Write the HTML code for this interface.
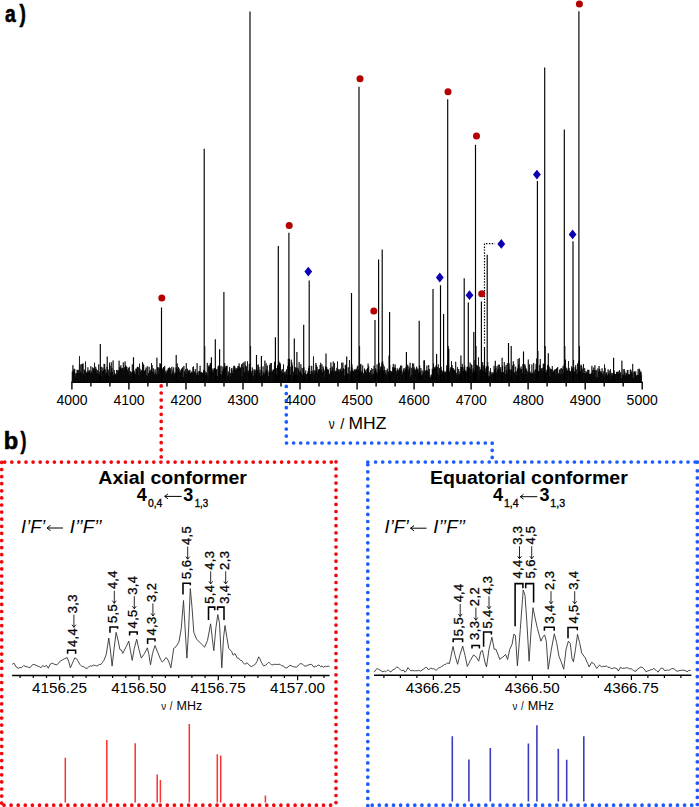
<!DOCTYPE html>
<html><head><meta charset="utf-8"><style>
html,body{margin:0;padding:0;background:#fff;}
svg{display:block;}
text{font-family:"Liberation Sans", sans-serif;fill:#000;}
</style></head><body>
<svg width="699" height="807" viewBox="0 0 699 807">
<rect width="699" height="807" fill="#fff"/>
<path d="M72.00,382.0 72.30,371.5 72.60,382.4 72.90,365.2 73.20,382.6 73.50,370.5 73.80,382.1 74.10,368.9 74.40,382.3 74.70,368.9 75.00,382.0 75.30,373.3 75.60,382.0 75.90,376.6 76.20,382.4 76.50,373.3 76.80,382.6 77.10,369.8 77.40,381.7 77.70,370.5 78.00,382.1 78.30,369.9 78.60,382.4 78.90,373.0 79.20,382.2 79.50,356.2 79.80,382.4 80.10,364.8 80.40,382.1 80.70,371.7 81.00,381.9 81.30,364.0 81.60,382.1 81.90,373.7 82.20,382.0 82.50,363.9 82.80,382.3 83.10,363.5 83.40,382.2 83.70,374.0 84.00,382.0 84.30,369.6 84.60,382.4 84.90,370.5 85.20,382.2 85.50,361.5 85.80,382.4 86.10,372.2 86.40,381.7 86.70,373.1 87.00,381.8 87.30,371.3 87.60,382.0 87.90,367.3 88.20,381.7 88.50,371.9 88.80,381.7 89.10,370.3 89.40,382.2 89.70,370.3 90.00,382.6 90.30,373.1 90.60,382.1 90.90,366.2 91.20,382.6 91.50,371.2 91.80,382.5 92.10,373.3 92.40,382.2 92.70,367.4 93.00,382.3 93.30,369.1 93.60,382.2 93.90,368.0 94.20,381.7 94.50,362.8 94.80,382.6 95.10,369.8 95.40,382.5 95.70,366.8 96.00,382.6 96.30,368.8 96.60,382.1 96.90,373.1 97.20,382.4 97.50,370.2 97.80,382.3 98.10,373.4 98.40,382.3 98.70,364.4 99.00,382.2 99.30,374.5 99.60,382.1 99.90,371.7 100.20,382.0 100.50,366.5 100.80,382.2 101.10,376.2 101.40,382.2 101.70,366.9 102.00,382.3 102.30,371.1 102.60,381.9 102.90,367.7 103.20,382.3 103.50,370.4 103.80,382.5 104.10,363.9 104.40,381.8 104.70,364.1 105.00,382.1 105.30,369.3 105.60,382.3 105.90,374.3 106.20,382.0 106.50,372.6 106.80,382.5 107.10,367.0 107.40,381.8 107.70,373.9 108.00,381.7 108.30,369.8 108.60,382.1 108.90,376.2 109.20,382.6 109.50,362.6 109.80,382.4 110.10,365.7 110.40,382.6 110.70,372.3 111.00,381.9 111.30,362.3 111.60,381.7 111.90,367.9 112.20,381.9 112.50,372.3 112.80,382.0 113.10,360.5 113.40,381.6 113.70,375.4 114.00,382.3 114.30,370.1 114.60,382.0 114.90,373.2 115.20,381.7 115.50,374.4 115.80,381.8 116.10,374.9 116.40,382.0 116.70,370.0 117.00,382.5 117.30,370.0 117.60,381.8 117.90,373.2 118.20,381.9 118.50,370.4 118.80,382.4 119.10,360.7 119.40,382.4 119.70,367.3 120.00,382.2 120.30,367.2 120.60,381.9 120.90,365.2 121.20,382.5 121.50,368.8 121.80,382.2 122.10,368.0 122.40,382.4 122.70,367.9 123.00,382.1 123.30,362.4 123.60,382.0 123.90,370.1 124.20,381.8 124.50,367.4 124.80,382.5 125.10,361.4 125.40,382.3 125.70,365.5 126.00,382.0 126.30,366.5 126.60,381.7 126.90,367.0 127.20,382.5 127.50,369.7 127.80,381.8 128.10,371.8 128.40,382.5 128.70,368.0 129.00,382.4 129.30,366.9 129.60,381.9 129.90,375.5 130.20,382.4 130.50,371.2 130.80,381.9 131.10,372.5 131.40,381.8 131.70,372.5 132.00,382.0 132.30,364.4 132.60,381.8 132.90,371.7 133.20,382.2 133.50,371.6 133.80,381.8 134.10,370.5 134.40,382.1 134.70,372.1 135.00,381.8 135.30,374.2 135.60,382.5 135.90,368.7 136.20,382.5 136.50,369.3 136.80,381.7 137.10,367.5 137.40,381.6 137.70,366.8 138.00,382.0 138.30,367.4 138.60,382.4 138.90,375.1 139.20,381.8 139.50,363.7 139.80,382.6 140.10,368.8 140.40,381.9 140.70,371.8 141.00,381.6 141.30,370.5 141.60,382.4 141.90,370.2 142.20,382.5 142.50,362.0 142.80,382.5 143.10,363.7 143.40,382.1 143.70,365.0 144.00,382.3 144.30,371.0 144.60,382.1 144.90,370.4 145.20,382.2 145.50,369.7 145.80,382.4 146.10,367.6 146.40,381.6 146.70,375.4 147.00,381.6 147.30,366.3 147.60,382.1 147.90,376.2 148.20,382.3 148.50,373.0 148.80,382.4 149.10,366.8 149.40,381.8 149.70,370.8 150.00,381.9 150.30,371.5 150.60,381.9 150.90,369.6 151.20,381.8 151.50,363.1 151.80,382.0 152.10,365.1 152.40,382.4 152.70,372.1 153.00,381.6 153.30,368.2 153.60,382.3 153.90,370.9 154.20,382.0 154.50,374.3 154.80,382.2 155.10,369.1 155.40,382.3 155.70,372.7 156.00,382.0 156.30,374.5 156.60,381.9 156.90,357.7 157.20,382.1 157.50,367.3 157.80,382.1 158.10,374.0 158.40,382.0 158.70,367.3 159.00,382.6 159.30,368.2 159.60,382.0 159.90,363.2 160.20,382.4 160.50,363.9 160.80,382.4 161.10,367.5 161.40,381.9 161.70,368.0 162.00,382.1 162.30,368.5 162.60,381.9 162.90,371.3 163.20,382.0 163.50,367.0 163.80,382.2 164.10,367.6 164.40,382.1 164.70,365.9 165.00,382.2 165.30,370.8 165.60,382.2 165.90,374.2 166.20,382.2 166.50,372.2 166.80,382.0 167.10,369.8 167.40,382.0 167.70,370.7 168.00,382.3 168.30,367.9 168.60,381.6 168.90,368.4 169.20,382.2 169.50,367.4 169.80,381.7 170.10,369.8 170.40,381.7 170.70,368.3 171.00,382.5 171.30,374.0 171.60,382.1 171.90,366.7 172.20,381.8 172.50,372.6 172.80,381.8 173.10,369.9 173.40,382.1 173.70,367.4 174.00,381.9 174.30,374.6 174.60,381.9 174.90,372.6 175.20,382.5 175.50,372.6 175.80,382.0 176.10,367.5 176.40,382.3 176.70,369.1 177.00,382.0 177.30,363.5 177.60,382.3 177.90,369.1 178.20,382.5 178.50,367.1 178.80,381.9 179.10,368.4 179.40,382.3 179.70,371.9 180.00,381.7 180.30,370.1 180.60,381.8 180.90,372.6 181.20,382.3 181.50,369.0 181.80,382.5 182.10,368.1 182.40,382.5 182.70,367.3 183.00,382.3 183.30,377.1 183.60,382.4 183.90,365.9 184.20,382.6 184.50,371.2 184.80,382.3 185.10,374.0 185.40,382.0 185.70,369.1 186.00,381.8 186.30,363.0 186.60,381.7 186.90,373.7 187.20,381.9 187.50,368.7 187.80,382.4 188.10,371.6 188.40,382.5 188.70,370.6 189.00,381.8 189.30,370.4 189.60,382.0 189.90,369.8 190.20,382.0 190.50,373.3 190.80,382.3 191.10,372.6 191.40,381.9 191.70,371.6 192.00,381.7 192.30,372.7 192.60,382.5 192.90,367.1 193.20,382.3 193.50,366.4 193.80,382.3 194.10,372.1 194.40,381.7 194.70,371.6 195.00,381.8 195.30,369.1 195.60,381.8 195.90,372.9 196.20,382.3 196.50,375.2 196.80,381.9 197.10,363.1 197.40,382.5 197.70,372.5 198.00,382.0 198.30,375.2 198.60,382.3 198.90,371.1 199.20,382.3 199.50,370.9 199.80,381.7 200.10,365.8 200.40,382.0 200.70,372.3 201.00,381.9 201.30,371.9 201.60,382.6 201.90,372.8 202.20,382.4 202.50,372.8 202.80,382.1 203.10,373.1 203.40,382.3 203.70,370.2 204.00,382.4 204.30,369.2 204.60,382.5 204.90,370.9 205.20,381.9 205.50,374.9 205.80,382.0 206.10,372.1 206.40,382.5 206.70,373.2 207.00,381.8 207.30,362.9 207.60,381.7 207.90,375.9 208.20,382.1 208.50,366.6 208.80,382.5 209.10,365.2 209.40,382.1 209.70,366.2 210.00,382.3 210.30,363.1 210.60,382.4 210.90,363.5 211.20,381.6 211.50,369.2 211.80,382.3 212.10,368.5 212.40,382.0 212.70,371.8 213.00,382.4 213.30,370.2 213.60,382.4 213.90,368.5 214.20,382.5 214.50,368.4 214.80,382.2 215.10,368.0 215.40,382.1 215.70,370.7 216.00,382.5 216.30,369.7 216.60,382.5 216.90,368.9 217.20,381.8 217.50,376.1 217.80,382.3 218.10,366.3 218.40,381.7 218.70,365.6 219.00,382.1 219.30,368.2 219.60,382.2 219.90,366.2 220.20,381.6 220.50,374.0 220.80,381.8 221.10,365.9 221.40,382.6 221.70,374.9 222.00,382.1 222.30,370.8 222.60,382.4 222.90,366.6 223.20,382.5 223.50,368.8 223.80,382.1 224.10,367.6 224.40,382.3 224.70,363.1 225.00,381.8 225.30,367.6 225.60,381.8 225.90,366.2 226.20,381.7 226.50,366.2 226.80,382.3 227.10,365.7 227.40,382.0 227.70,375.9 228.00,381.9 228.30,371.5 228.60,381.6 228.90,373.5 229.20,381.7 229.50,367.0 229.80,382.3 230.10,376.6 230.40,381.7 230.70,373.1 231.00,382.0 231.30,368.7 231.60,381.9 231.90,367.9 232.20,382.4 232.50,372.8 232.80,381.8 233.10,370.1 233.40,382.3 233.70,366.3 234.00,381.7 234.30,365.6 234.60,382.2 234.90,366.7 235.20,382.1 235.50,369.7 235.80,382.2 236.10,368.0 236.40,381.8 236.70,369.0 237.00,381.8 237.30,368.3 237.60,382.3 237.90,366.0 238.20,382.2 238.50,366.9 238.80,382.4 239.10,363.4 239.40,381.8 239.70,366.6 240.00,382.6 240.30,368.1 240.60,382.3 240.90,367.4 241.20,382.0 241.50,364.3 241.80,382.5 242.10,376.1 242.40,382.3 242.70,363.2 243.00,382.3 243.30,367.3 243.60,381.6 243.90,362.4 244.20,382.0 244.50,372.2 244.80,382.3 245.10,361.3 245.40,382.0 245.70,365.6 246.00,382.3 246.30,366.5 246.60,381.7 246.90,370.7 247.20,381.9 247.50,361.3 247.80,381.6 248.10,372.3 248.40,382.5 248.70,370.6 249.00,382.4 249.30,363.8 249.60,382.0 249.90,366.6 250.20,381.7 250.50,368.9 250.80,382.5 251.10,371.0 251.40,382.1 251.70,373.0 252.00,382.3 252.30,367.4 252.60,381.8 252.90,370.6 253.20,382.6 253.50,375.8 253.80,382.5 254.10,369.2 254.40,381.8 254.70,371.0 255.00,382.6 255.30,369.7 255.60,382.4 255.90,373.4 256.20,382.3 256.50,372.5 256.80,382.2 257.10,364.9 257.40,382.1 257.70,370.4 258.00,382.3 258.30,364.6 258.60,382.1 258.90,367.1 259.20,381.6 259.50,372.9 259.80,382.1 260.10,369.9 260.40,381.6 260.70,376.2 261.00,382.4 261.30,366.6 261.60,382.0 261.90,371.0 262.20,382.4 262.50,375.3 262.80,381.9 263.10,366.4 263.40,381.6 263.70,372.5 264.00,382.2 264.30,373.6 264.60,382.3 264.90,360.6 265.20,382.2 265.50,370.8 265.80,381.9 266.10,363.3 266.40,381.6 266.70,369.6 267.00,381.7 267.30,365.5 267.60,382.3 267.90,372.4 268.20,382.0 268.50,376.3 268.80,381.8 269.10,370.6 269.40,382.2 269.70,365.1 270.00,382.0 270.30,363.3 270.60,381.6 270.90,372.2 271.20,381.8 271.50,363.0 271.80,382.4 272.10,370.5 272.40,382.0 272.70,371.5 273.00,382.1 273.30,369.7 273.60,382.5 273.90,369.5 274.20,382.5 274.50,361.8 274.80,382.5 275.10,365.6 275.40,382.2 275.70,370.6 276.00,381.9 276.30,368.0 276.60,382.1 276.90,374.8 277.20,381.9 277.50,365.2 277.80,382.2 278.10,367.2 278.40,381.9 278.70,366.5 279.00,381.6 279.30,363.0 279.60,381.6 279.90,362.6 280.20,382.4 280.50,364.3 280.80,382.0 281.10,370.1 281.40,381.8 281.70,371.8 282.00,382.5 282.30,369.0 282.60,382.2 282.90,373.5 283.20,382.1 283.50,364.4 283.80,381.8 284.10,373.0 284.40,381.6 284.70,371.8 285.00,382.2 285.30,373.9 285.60,382.0 285.90,371.3 286.20,381.7 286.50,369.4 286.80,382.3 287.10,374.6 287.40,381.9 287.70,365.9 288.00,381.7 288.30,358.8 288.60,382.0 288.90,363.7 289.20,382.6 289.50,371.8 289.80,382.2 290.10,366.9 290.40,381.8 290.70,374.8 291.00,382.0 291.30,359.7 291.60,381.6 291.90,362.6 292.20,381.9 292.50,365.7 292.80,382.3 293.10,375.7 293.40,382.5 293.70,372.0 294.00,382.5 294.30,370.8 294.60,382.1 294.90,369.4 295.20,382.5 295.50,367.3 295.80,382.1 296.10,374.3 296.40,381.7 296.70,367.8 297.00,381.8 297.30,375.6 297.60,381.9 297.90,367.7 298.20,382.3 298.50,369.5 298.80,381.7 299.10,362.1 299.40,382.2 299.70,372.0 300.00,382.1 300.30,370.8 300.60,382.3 300.90,364.3 301.20,381.7 301.50,373.1 301.80,382.2 302.10,367.9 302.40,382.0 302.70,374.9 303.00,382.2 303.30,368.1 303.60,381.9 303.90,367.3 304.20,382.1 304.50,375.5 304.80,382.5 305.10,373.7 305.40,381.8 305.70,370.4 306.00,382.5 306.30,374.7 306.60,381.6 306.90,374.1 307.20,382.5 307.50,373.1 307.80,382.5 308.10,371.0 308.40,382.2 308.70,368.1 309.00,381.8 309.30,365.8 309.60,382.1 309.90,377.4 310.20,382.1 310.50,374.0 310.80,382.3 311.10,371.1 311.40,381.7 311.70,365.8 312.00,382.5 312.30,372.6 312.60,381.7 312.90,370.4 313.20,382.3 313.50,356.4 313.80,381.6 314.10,374.5 314.40,381.9 314.70,370.5 315.00,381.9 315.30,370.7 315.60,382.2 315.90,363.0 316.20,382.5 316.50,365.3 316.80,382.0 317.10,366.9 317.40,382.3 317.70,372.9 318.00,382.2 318.30,370.1 318.60,381.7 318.90,369.1 319.20,381.7 319.50,369.3 319.80,381.9 320.10,365.0 320.40,382.1 320.70,362.8 321.00,381.9 321.30,370.1 321.60,382.6 321.90,364.3 322.20,382.5 322.50,372.5 322.80,381.7 323.10,366.4 323.40,382.1 323.70,368.7 324.00,381.9 324.30,370.6 324.60,381.9 324.90,377.3 325.20,381.8 325.50,366.1 325.80,382.1 326.10,367.4 326.40,381.9 326.70,367.1 327.00,382.1 327.30,369.5 327.60,382.1 327.90,368.9 328.20,382.5 328.50,370.2 328.80,381.8 329.10,373.6 329.40,382.0 329.70,374.1 330.00,382.0 330.30,368.0 330.60,381.6 330.90,362.4 331.20,381.9 331.50,371.2 331.80,381.7 332.10,366.5 332.40,382.3 332.70,368.4 333.00,382.4 333.30,361.5 333.60,381.8 333.90,372.0 334.20,381.9 334.50,363.0 334.80,382.0 335.10,370.8 335.40,382.4 335.70,371.6 336.00,381.9 336.30,370.7 336.60,382.1 336.90,367.9 337.20,381.7 337.50,361.5 337.80,382.3 338.10,371.9 338.40,382.3 338.70,369.2 339.00,381.9 339.30,369.6 339.60,382.2 339.90,372.0 340.20,382.0 340.50,368.7 340.80,382.6 341.10,371.2 341.40,382.2 341.70,362.7 342.00,381.7 342.30,370.5 342.60,382.0 342.90,362.6 343.20,382.5 343.50,368.2 343.80,382.5 344.10,369.1 344.40,381.9 344.70,375.6 345.00,381.8 345.30,364.8 345.60,382.2 345.90,365.4 346.20,381.9 346.50,366.4 346.80,381.8 347.10,374.3 347.40,381.7 347.70,373.2 348.00,382.0 348.30,367.4 348.60,382.0 348.90,374.8 349.20,382.2 349.50,360.0 349.80,382.2 350.10,373.7 350.40,381.9 350.70,371.2 351.00,382.4 351.30,367.1 351.60,382.4 351.90,364.4 352.20,382.4 352.50,370.2 352.80,381.7 353.10,371.6 353.40,382.4 353.70,370.9 354.00,381.9 354.30,369.1 354.60,382.3 354.90,370.8 355.20,382.3 355.50,369.9 355.80,382.1 356.10,368.7 356.40,381.7 356.70,369.9 357.00,381.6 357.30,366.5 357.60,382.5 357.90,365.7 358.20,382.5 358.50,369.5 358.80,382.1 359.10,372.5 359.40,382.2 359.70,371.4 360.00,382.3 360.30,364.6 360.60,382.3 360.90,363.9 361.20,382.5 361.50,372.0 361.80,382.0 362.10,370.7 362.40,382.5 362.70,365.4 363.00,382.2 363.30,373.3 363.60,381.6 363.90,373.6 364.20,382.0 364.50,368.5 364.80,381.7 365.10,369.8 365.40,382.5 365.70,371.0 366.00,382.6 366.30,372.8 366.60,381.8 366.90,369.1 367.20,382.1 367.50,368.0 367.80,381.8 368.10,363.6 368.40,382.4 368.70,366.4 369.00,382.4 369.30,372.6 369.60,381.7 369.90,372.3 370.20,382.2 370.50,370.2 370.80,382.2 371.10,374.5 371.40,382.3 371.70,368.2 372.00,382.0 372.30,373.9 372.60,382.4 372.90,369.0 373.20,381.8 373.50,373.9 373.80,382.6 374.10,365.6 374.40,381.7 374.70,371.2 375.00,382.2 375.30,368.4 375.60,382.3 375.90,369.2 376.20,382.5 376.50,371.9 376.80,381.6 377.10,364.4 377.40,381.8 377.70,373.5 378.00,382.2 378.30,369.5 378.60,382.1 378.90,363.2 379.20,382.1 379.50,371.1 379.80,382.5 380.10,369.5 380.40,382.4 380.70,366.8 381.00,382.3 381.30,366.2 381.60,382.6 381.90,362.6 382.20,382.1 382.50,370.4 382.80,382.1 383.10,364.3 383.40,381.8 383.70,370.7 384.00,381.7 384.30,366.5 384.60,381.7 384.90,369.9 385.20,382.1 385.50,372.8 385.80,382.3 386.10,370.3 386.40,381.8 386.70,374.6 387.00,382.4 387.30,368.6 387.60,381.6 387.90,370.9 388.20,381.9 388.50,372.4 388.80,382.2 389.10,355.6 389.40,382.3 389.70,365.0 390.00,382.3 390.30,374.5 390.60,382.4 390.90,371.0 391.20,382.0 391.50,371.7 391.80,381.7 392.10,371.7 392.40,382.4 392.70,367.2 393.00,382.3 393.30,363.9 393.60,382.2 393.90,368.1 394.20,382.3 394.50,367.6 394.80,382.1 395.10,364.4 395.40,382.1 395.70,367.8 396.00,381.8 396.30,370.7 396.60,381.9 396.90,373.5 397.20,381.9 397.50,368.5 397.80,382.5 398.10,371.5 398.40,381.9 398.70,369.9 399.00,382.5 399.30,368.6 399.60,382.6 399.90,367.6 400.20,382.1 400.50,365.6 400.80,382.3 401.10,370.6 401.40,381.9 401.70,365.6 402.00,381.9 402.30,374.1 402.60,381.7 402.90,371.5 403.20,382.2 403.50,369.5 403.80,382.4 404.10,368.0 404.40,381.8 404.70,371.7 405.00,382.1 405.30,369.3 405.60,381.6 405.90,367.2 406.20,382.2 406.50,360.5 406.80,381.7 407.10,366.6 407.40,382.2 407.70,364.8 408.00,381.8 408.30,370.7 408.60,382.6 408.90,366.6 409.20,381.9 409.50,368.7 409.80,381.8 410.10,362.8 410.40,382.3 410.70,376.6 411.00,382.6 411.30,367.8 411.60,382.4 411.90,374.4 412.20,381.9 412.50,363.3 412.80,382.4 413.10,369.4 413.40,382.3 413.70,363.7 414.00,382.1 414.30,367.5 414.60,382.1 414.90,369.5 415.20,382.1 415.50,370.7 415.80,382.3 416.10,368.7 416.40,381.8 416.70,366.6 417.00,382.1 417.30,369.3 417.60,382.2 417.90,368.4 418.20,381.6 418.50,373.1 418.80,382.1 419.10,370.3 419.40,381.6 419.70,365.4 420.00,381.9 420.30,371.6 420.60,381.7 420.90,368.0 421.20,382.5 421.50,375.5 421.80,382.2 422.10,370.3 422.40,381.7 422.70,374.0 423.00,382.6 423.30,371.7 423.60,381.6 423.90,360.5 424.20,382.4 424.50,360.4 424.80,382.5 425.10,372.0 425.40,382.2 425.70,370.7 426.00,382.3 426.30,369.9 426.60,382.0 426.90,365.6 427.20,381.7 427.50,370.6 427.80,381.7 428.10,372.5 428.40,382.0 428.70,365.0 429.00,382.3 429.30,369.0 429.60,382.3 429.90,376.6 430.20,382.1 430.50,377.4 430.80,382.3 431.10,374.8 431.40,381.7 431.70,374.7 432.00,382.0 432.30,368.8 432.60,382.3 432.90,370.0 433.20,382.3 433.50,363.4 433.80,381.7 434.10,367.0 434.40,382.1 434.70,368.2 435.00,381.6 435.30,367.5 435.60,381.7 435.90,365.6 436.20,382.5 436.50,369.6 436.80,381.8 437.10,373.1 437.40,381.6 437.70,367.1 438.00,382.4 438.30,364.4 438.60,381.9 438.90,374.9 439.20,381.7 439.50,368.2 439.80,381.8 440.10,371.7 440.40,382.3 440.70,367.1 441.00,382.2 441.30,370.4 441.60,382.1 441.90,373.9 442.20,381.9 442.50,371.7 442.80,382.1 443.10,370.2 443.40,382.5 443.70,372.0 444.00,382.6 444.30,373.6 444.60,382.5 444.90,372.7 445.20,381.9 445.50,372.1 445.80,382.6 446.10,371.1 446.40,381.7 446.70,365.4 447.00,381.7 447.30,368.7 447.60,382.3 447.90,360.5 448.20,382.3 448.50,363.0 448.80,382.2 449.10,371.4 449.40,382.2 449.70,371.9 450.00,382.0 450.30,368.4 450.60,381.7 450.90,367.0 451.20,381.9 451.50,361.2 451.80,382.1 452.10,365.3 452.40,381.8 452.70,368.0 453.00,382.5 453.30,368.2 453.60,381.7 453.90,370.1 454.20,382.2 454.50,369.7 454.80,381.7 455.10,370.9 455.40,381.7 455.70,361.8 456.00,382.1 456.30,372.9 456.60,382.1 456.90,375.2 457.20,382.3 457.50,367.2 457.80,382.3 458.10,373.9 458.40,382.3 458.70,369.0 459.00,381.7 459.30,374.5 459.60,381.9 459.90,371.3 460.20,381.8 460.50,373.3 460.80,381.7 461.10,367.1 461.40,381.8 461.70,367.1 462.00,382.1 462.30,363.8 462.60,381.9 462.90,366.9 463.20,381.8 463.50,371.1 463.80,382.1 464.10,368.6 464.40,382.4 464.70,371.1 465.00,382.4 465.30,371.1 465.60,382.1 465.90,370.2 466.20,381.6 466.50,372.2 466.80,381.7 467.10,367.1 467.40,382.3 467.70,366.7 468.00,382.0 468.30,367.8 468.60,382.3 468.90,375.4 469.20,382.4 469.50,367.4 469.80,381.7 470.10,362.6 470.40,382.0 470.70,369.5 471.00,382.2 471.30,364.4 471.60,382.5 471.90,365.1 472.20,382.1 472.50,372.4 472.80,382.0 473.10,368.5 473.40,382.0 473.70,370.4 474.00,382.4 474.30,371.1 474.60,381.8 474.90,360.1 475.20,382.2 475.50,373.0 475.80,382.1 476.10,371.5 476.40,381.9 476.70,364.9 477.00,382.2 477.30,366.0 477.60,382.1 477.90,365.4 478.20,382.5 478.50,357.3 478.80,382.3 479.10,371.3 479.40,382.4 479.70,366.8 480.00,382.6 480.30,369.5 480.60,382.0 480.90,369.8 481.20,382.4 481.50,365.6 481.80,382.6 482.10,370.9 482.40,382.6 482.70,362.1 483.00,381.9 483.30,365.4 483.60,382.4 483.90,371.2 484.20,382.0 484.50,366.1 484.80,381.8 485.10,368.5 485.40,381.9 485.70,372.3 486.00,381.9 486.30,366.2 486.60,382.2 486.90,367.2 487.20,381.9 487.50,372.4 487.80,382.2 488.10,366.2 488.40,382.0 488.70,376.5 489.00,381.7 489.30,375.8 489.60,381.9 489.90,371.4 490.20,382.3 490.50,368.2 490.80,382.5 491.10,372.2 491.40,381.8 491.70,374.7 492.00,381.9 492.30,373.4 492.60,382.1 492.90,372.1 493.20,382.1 493.50,373.6 493.80,382.1 494.10,365.8 494.40,381.7 494.70,369.5 495.00,382.0 495.30,369.9 495.60,381.9 495.90,367.9 496.20,382.1 496.50,372.6 496.80,382.6 497.10,366.1 497.40,381.7 497.70,369.8 498.00,382.2 498.30,364.7 498.60,381.7 498.90,368.7 499.20,382.2 499.50,364.7 499.80,382.1 500.10,369.5 500.40,381.9 500.70,367.2 501.00,382.3 501.30,372.4 501.60,382.1 501.90,372.2 502.20,381.9 502.50,365.8 502.80,382.2 503.10,372.3 503.40,381.9 503.70,372.2 504.00,381.9 504.30,362.0 504.60,381.8 504.90,366.9 505.20,382.0 505.50,373.9 505.80,381.6 506.10,365.0 506.40,381.8 506.70,370.2 507.00,382.5 507.30,363.3 507.60,381.8 507.90,374.1 508.20,381.7 508.50,364.8 508.80,381.7 509.10,363.3 509.40,381.9 509.70,369.1 510.00,382.1 510.30,370.3 510.60,381.7 510.90,375.3 511.20,381.8 511.50,369.2 511.80,382.4 512.10,371.5 512.40,382.4 512.70,365.5 513.00,381.8 513.30,361.3 513.60,382.0 513.90,364.1 514.20,381.7 514.50,372.9 514.80,382.4 515.10,372.1 515.40,382.4 515.70,366.7 516.00,381.7 516.30,371.2 516.60,381.7 516.90,374.7 517.20,382.4 517.50,368.6 517.80,382.1 518.10,369.6 518.40,382.3 518.70,364.4 519.00,381.6 519.30,358.0 519.60,381.8 519.90,368.0 520.20,382.4 520.50,369.6 520.80,381.9 521.10,366.5 521.40,381.7 521.70,369.0 522.00,382.3 522.30,372.9 522.60,381.7 522.90,364.4 523.20,382.5 523.50,372.1 523.80,382.4 524.10,374.5 524.40,382.2 524.70,364.0 525.00,382.5 525.30,365.7 525.60,381.9 525.90,368.2 526.20,382.6 526.50,369.4 526.80,381.9 527.10,374.0 527.40,382.5 527.70,371.2 528.00,382.3 528.30,359.5 528.60,382.5 528.90,372.6 529.20,381.8 529.50,364.4 529.80,382.5 530.10,371.6 530.40,382.4 530.70,373.0 531.00,382.3 531.30,373.4 531.60,381.7 531.90,364.5 532.20,382.5 532.50,372.8 532.80,382.2 533.10,373.4 533.40,382.4 533.70,363.0 534.00,382.4 534.30,370.5 534.60,382.4 534.90,373.6 535.20,381.9 535.50,369.3 535.80,382.3 536.10,364.1 536.40,382.4 536.70,358.5 537.00,382.0 537.30,370.9 537.60,381.8 537.90,371.8 538.20,381.6 538.50,371.3 538.80,381.8 539.10,371.0 539.40,381.9 539.70,364.8 540.00,382.5 540.30,359.0 540.60,382.3 540.90,369.4 541.20,381.8 541.50,368.3 541.80,381.9 542.10,371.1 542.40,382.6 542.70,367.8 543.00,382.3 543.30,363.6 543.60,382.6 543.90,364.4 544.20,382.4 544.50,364.1 544.80,381.8 545.10,371.3 545.40,382.3 545.70,372.8 546.00,382.5 546.30,372.0 546.60,381.9 546.90,369.8 547.20,382.6 547.50,365.2 547.80,381.7 548.10,369.5 548.40,382.4 548.70,365.6 549.00,381.6 549.30,367.2 549.60,381.7 549.90,376.4 550.20,381.9 550.50,368.7 550.80,382.1 551.10,370.2 551.40,381.8 551.70,369.1 552.00,382.4 552.30,366.2 552.60,381.7 552.90,371.1 553.20,382.0 553.50,371.8 553.80,381.7 554.10,370.1 554.40,381.7 554.70,369.8 555.00,382.2 555.30,369.0 555.60,381.7 555.90,374.3 556.20,381.7 556.50,368.7 556.80,382.0 557.10,368.0 557.40,382.3 557.70,367.0 558.00,382.5 558.30,373.9 558.60,382.2 558.90,372.9 559.20,382.2 559.50,369.7 559.80,381.7 560.10,374.3 560.40,381.8 560.70,368.8 561.00,382.4 561.30,368.0 561.60,381.8 561.90,373.9 562.20,381.8 562.50,369.0 562.80,381.7 563.10,366.0 563.40,381.7 563.70,372.9 564.00,382.1 564.30,364.2 564.60,381.7 564.90,364.1 565.20,381.9 565.50,359.6 565.80,382.1 566.10,370.1 566.40,381.8 566.70,367.8 567.00,382.4 567.30,371.0 567.60,381.8 567.90,369.5 568.20,382.3 568.50,361.0 568.80,381.7 569.10,368.1 569.40,381.9 569.70,370.9 570.00,382.2 570.30,371.1 570.60,382.2 570.90,372.4 571.20,382.2 571.50,366.5 571.80,381.8 572.10,369.4 572.40,382.0 572.70,367.8 573.00,381.8 573.30,375.8 573.60,382.6 573.90,371.9 574.20,382.0 574.50,371.7 574.80,381.7 575.10,367.2 575.40,381.9 575.70,365.2 576.00,382.3 576.30,369.4 576.60,382.2 576.90,374.0 577.20,381.8 577.50,363.5 577.80,381.9 578.10,373.0 578.40,381.7 578.70,360.8 579.00,381.7 579.30,371.0 579.60,381.9 579.90,365.8 580.20,381.9 580.50,371.4 580.80,382.6 581.10,364.6 581.40,382.4 581.70,365.8 582.00,382.1 582.30,368.7 582.60,381.7 582.90,372.8 583.20,382.1 583.50,364.0 583.80,382.4 584.10,372.9 584.40,381.8 584.70,368.2 585.00,382.4 585.30,373.4 585.60,382.0 585.90,371.1 586.20,381.7 586.50,372.3 586.80,381.6 587.10,373.5 587.40,382.0 587.70,369.7 588.00,382.1 588.30,370.4 588.60,381.8 588.90,369.9 589.20,381.7 589.50,374.0 589.80,381.7 590.10,373.9 590.40,382.3 590.70,374.0 591.00,382.2 591.30,372.8 591.60,382.5 591.90,365.8 592.20,382.3 592.50,370.1 592.80,382.0 593.10,373.6 593.40,381.6 593.70,367.6 594.00,381.7 594.30,370.1 594.60,382.4 594.90,365.3 595.20,382.2 595.50,370.5 595.80,382.4 596.10,376.9 596.40,382.4 596.70,369.9 597.00,382.1 597.30,377.3 597.60,382.6 597.90,368.4 598.20,381.8 598.50,371.7 598.80,382.0 599.10,366.0 599.40,381.6 599.70,369.0 600.00,382.1 600.30,371.9 600.60,382.4 600.90,371.1 601.20,382.2 601.50,372.8 601.80,382.6 602.10,368.3 602.40,382.6 602.70,374.2 603.00,381.9 603.30,371.5 603.60,382.1 603.90,376.4 604.20,382.5 604.50,364.5 604.80,382.3 605.10,367.9 605.40,381.8 605.70,374.5 606.00,382.2 606.30,372.3 606.60,381.6 606.90,373.5 607.20,381.7 607.50,375.5 607.80,382.3 608.10,369.3 608.40,382.0 608.70,373.3 609.00,381.7 609.30,370.7 609.60,382.5 609.90,374.3 610.20,382.5 610.50,369.2 610.80,382.3 611.10,375.6 611.40,382.5 611.70,372.8 612.00,381.9 612.30,373.3 612.60,382.0 612.90,375.9 613.20,382.4 613.50,375.4 613.80,382.1 614.10,370.5 614.40,381.8 614.70,373.7 615.00,382.3 615.30,374.0 615.60,382.2 615.90,374.4 616.20,381.6 616.50,371.9 616.80,382.0 617.10,372.4 617.40,382.5 617.70,371.7 618.00,382.5 618.30,373.6 618.60,381.7 618.90,371.4 619.20,381.7 619.50,370.2 619.80,382.2 620.10,371.9 620.40,382.4 620.70,373.2 621.00,381.8 621.30,378.3 621.60,382.5 621.90,360.7 622.20,382.5 622.50,374.5 622.80,382.4 623.10,369.3 623.40,382.6 623.70,374.9 624.00,382.4 624.30,369.0 624.60,382.0 624.90,371.5 625.20,382.1 625.50,375.5 625.80,381.8 626.10,373.1 626.40,382.1 626.70,373.7 627.00,381.9 627.30,370.1 627.60,381.7 627.90,370.0 628.20,381.7 628.50,374.6 628.80,381.8 629.10,374.4 629.40,381.7 629.70,374.1 630.00,382.5 630.30,369.4 630.60,381.8 630.90,370.0 631.20,382.0 631.50,371.8 631.80,381.8 632.10,373.8 632.40,381.8 632.70,363.9 633.00,382.0 633.30,378.0 633.60,382.1 633.90,371.9 634.20,382.3 634.50,371.4 634.80,382.5 635.10,373.0 635.40,381.9 635.70,371.4 636.00,382.3 636.30,375.8 636.60,381.9 636.90,375.1 637.20,382.2 637.50,374.9 637.80,382.1 638.10,369.0 638.40,382.0 638.70,374.4 639.00,382.3 639.30,368.7 639.60,382.2 639.90,370.2 640.20,381.9 640.50,372.3 640.80,382.0 641.10,371.8 641.40,381.7 641.70,375.2" fill="none" stroke="#000" stroke-width="0.7"/>
<path d="M100.3,381V344.1 M107.2,381V356.4 M133.5,381V357.3 M161.5,381V307.5 M176.2,381V355.0 M204.2,381V148.8 M211.4,381V357.3 M215.3,381V339.3 M219.6,381V349.2 M223.9,381V292.1 M250.0,381V11.4 M256.5,381V355.0 M261.4,381V356.0 M275.4,381V337.2 M278.3,381V246.1 M288.9,381V232.8 M294.3,381V338.4 M296.9,381V352.1 M303.7,381V324.7 M309.2,381V280.5 M326.0,381V353.5 M346.7,381V356.4 M351.5,381V292.9 M359.0,381V86.7 M375.0,381V320.0 M378.6,381V259.4 M382.2,381V249.4 M389.6,381V312.1 M406.4,381V352.1 M419.2,381V320.7 M433.0,381V289.1 M436.6,381V353.9 M440.5,381V285.2 M443.6,381V313.9 M447.7,381V99.2 M448.8,381V348.7 M460.9,381V355.6 M464.2,381V278.3 M468.3,381V302.4 M473.8,381V332.1 M475.5,381V144.8 M481.4,381V301.5 M484.5,381V347.0 M487.2,381V254.8 M495.3,381V360.7 M502.1,381V357.8 M508.5,381V343.0 M511.2,381V346.1 M518.1,381V359.0 M523.5,381V351.4 M537.4,381V181.0 M544.7,381V67.4 M548.3,381V353.2 M564.3,381V129.6 M573.0,381V241.3 M578.9,381V11.2 M613.6,381V357.8" stroke="#000" stroke-width="1.15" fill="none"/>
<path d="M162.1,381V370.0 M204.8,381V346.2 M215.9,381V374.7 M224.5,381V367.7 M250.6,381V346.0 M276.0,381V374.4 M278.9,381V360.8 M289.5,381V358.8 M294.9,381V374.6 M304.3,381V372.6 M309.8,381V365.9 M352.1,381V367.8 M359.6,381V346.0 M375.6,381V371.9 M379.2,381V362.8 M382.8,381V361.3 M390.2,381V370.7 M419.8,381V372.0 M433.6,381V367.2 M441.1,381V366.6 M444.2,381V370.9 M448.3,381V346.0 M464.8,381V365.6 M468.9,381V369.2 M474.4,381V373.7 M476.1,381V346.0 M482.0,381V369.1 M487.8,381V362.1 M538.0,381V351.0 M545.3,381V346.0 M564.9,381V346.0 M573.6,381V360.0 M579.5,381V346.0" stroke="#000" stroke-width="0.9" fill="none"/>
<path d="M484.5,343.6V243.6H495" stroke="#000" stroke-width="1.2" stroke-dasharray="1.4 1.5" fill="none"/>
<circle cx="161.8" cy="298.1" r="3.5" fill="#b40000"/>
<circle cx="289.2" cy="225.4" r="3.5" fill="#b40000"/>
<circle cx="360.0" cy="78.7" r="3.5" fill="#b40000"/>
<circle cx="373.8" cy="310.9" r="3.5" fill="#b40000"/>
<circle cx="448.0" cy="91.7" r="3.5" fill="#b40000"/>
<circle cx="476.5" cy="136.1" r="3.5" fill="#b40000"/>
<circle cx="481.7" cy="293.8" r="3.5" fill="#b40000"/>
<circle cx="579.4" cy="4.0" r="3.5" fill="#b40000"/>
<path d="M308.3,266.7l3.9,4.9l-3.9,4.9l-3.9,-4.9z" fill="#0c00b0"/>
<path d="M439.8,272.6l3.9,4.9l-3.9,4.9l-3.9,-4.9z" fill="#0c00b0"/>
<path d="M469.5,290.3l3.9,4.9l-3.9,4.9l-3.9,-4.9z" fill="#0c00b0"/>
<path d="M501.3,239.0l3.9,4.9l-3.9,4.9l-3.9,-4.9z" fill="#0c00b0"/>
<path d="M536.9,169.7l3.9,4.9l-3.9,4.9l-3.9,-4.9z" fill="#0c00b0"/>
<path d="M572.6,229.5l3.9,4.9l-3.9,4.9l-3.9,-4.9z" fill="#0c00b0"/>
<path d="M71.3,382.2H642.8" stroke="#000" stroke-width="1.6"/>
<path d="M71.9,382.2V389.6 M90.9,382.2V386.6 M109.9,382.2V386.6 M128.9,382.2V389.6 M147.9,382.2V386.6 M167.0,382.2V386.6 M186.0,382.2V389.6 M205.0,382.2V386.6 M224.0,382.2V386.6 M243.0,382.2V389.6 M262.0,382.2V386.6 M281.0,382.2V386.6 M300.0,382.2V389.6 M319.0,382.2V386.6 M338.0,382.2V386.6 M357.1,382.2V389.6 M376.1,382.2V386.6 M395.1,382.2V386.6 M414.1,382.2V389.6 M433.1,382.2V386.6 M452.1,382.2V386.6 M471.1,382.2V389.6 M490.1,382.2V386.6 M509.1,382.2V386.6 M528.1,382.2V389.6 M547.1,382.2V386.6 M566.2,382.2V386.6 M585.2,382.2V389.6 M604.2,382.2V386.6 M623.2,382.2V386.6 M642.2,382.2V389.6" stroke="#000" stroke-width="1.4"/>
<text x="56.44" y="404.90" font-size="14.00">4000</text>
<text x="113.47" y="404.90" font-size="14.00">4100</text>
<text x="170.50" y="404.90" font-size="14.00">4200</text>
<text x="227.53" y="404.90" font-size="14.00">4300</text>
<text x="284.56" y="404.90" font-size="14.00">4400</text>
<text x="341.59" y="404.90" font-size="14.00">4500</text>
<text x="398.62" y="404.90" font-size="14.00">4600</text>
<text x="455.65" y="404.90" font-size="14.00">4700</text>
<text x="512.68" y="404.90" font-size="14.00">4800</text>
<text x="569.71" y="404.90" font-size="14.00">4900</text>
<text x="626.62" y="404.90" font-size="14.00">5000</text>
<text transform="translate(328.80,428.60) scale(0.8505,1)" x="-0.00" y="0" font-size="14.00">ν</text>
<text transform="translate(340.20,428.60) scale(0.9521,1)" x="-0.00" y="0" font-size="15.50">/</text>
<text transform="translate(349.90,428.60) scale(1.0535,1)" x="-1.36" y="0" font-size="16.60">MHZ</text>
<g stroke="#000" stroke-width="0.6">
<text transform="translate(5.60,21.70) scale(0.8049,1)" x="-0.70" y="0" font-size="24.00" font-weight="bold">a</text>
<text transform="translate(19.50,22.00) scale(0.7972,1)" x="-0.02" y="0" font-size="24.00" font-weight="bold">)</text>
</g>
<g stroke="#000" stroke-width="0.6">
<text transform="translate(5.20,448.60) scale(0.9840,1)" x="-1.58" y="0" font-size="24.00" font-weight="bold">b</text>
<text transform="translate(20.40,448.90) scale(0.7382,1)" x="-0.02" y="0" font-size="24.00" font-weight="bold">)</text>
</g>
<g fill="none" stroke-width="3.7" stroke-linecap="round" stroke-dasharray="0 7.1">
<path d="M161.2,385.9V458" stroke="#f00a10"/>
<path d="M4.7,462.1H332" stroke="#f00a10"/>
<path d="M1.7,462.4V805" stroke="#f00a10"/>
<path d="M336,461.8V805" stroke="#f00a10"/>
<path d="M4.0,805.2H334" stroke="#f00a10"/>
<path d="M286.3,386.4V443H492.2V463" stroke="#1a5cff"/>
<path d="M367.8,462H368M375.6,462H696" stroke="#1a5cff"/>
<path d="M697.3,462.2V463M697.3,470.8V805" stroke="#1a5cff"/>
<path d="M367.8,464.7V806" stroke="#1a5cff"/>
<path d="M372.2,805.2H696" stroke="#1a5cff"/>
</g>
<text transform="translate(98.80,483.90) scale(1.0172,1)" x="-0.48" y="0" font-size="19.20" font-weight="bold">Axial conformer</text>
<text x="136.63" y="500.80" font-size="18.00" font-weight="bold">4</text>
<g stroke="#000" stroke-width="0.35">
<text transform="translate(148.30,506.80) scale(0.9423,1)" x="-0.43" y="0" font-size="11.00">0,4</text>
</g>
<path d="M181.7,496.4H164.7 M167.9,494.0L164.7,496.4L167.9,498.8" fill="none" stroke="#000" stroke-width="1.00"/>
<text x="183.29" y="500.80" font-size="18.00" font-weight="bold">3</text>
<g stroke="#000" stroke-width="0.35">
<text transform="translate(195.40,506.80) scale(0.8876,1)" x="-0.84" y="0" font-size="11.00">1,3</text>
</g>
<text transform="translate(21.80,532.60) scale(1.0408,1)" x="-0.69" y="0" font-size="17.50" font-style="italic">I’F’</text>
<path d="M63.0,528.0H47.0 M50.6,525.3L47.0,528.0L50.6,530.7" fill="none" stroke="#000" stroke-width="1.00"/>
<text transform="translate(70.50,532.60) scale(1.0737,1)" x="-0.69" y="0" font-size="17.50" font-style="italic">I’’F’’</text>
<path d="M12.3,664.3 14.0,663.2 16.3,667.2 18.6,668.3 20.0,667.4 21.4,667.8 23.7,665.5 26.0,666.6 28.3,667.2 30.0,667.8 31.4,666.0 32.9,664.3 35.2,664.9 37.5,666.0 39.2,666.6 40.9,667.8 42.6,665.5 44.3,666.6 46.6,665.5 48.3,668.3 50.1,664.3 52.3,663.2 54.6,664.3 56.9,664.9 58.6,663.1 60.4,660.9 62.6,659.8 64.9,658.6 67.2,657.5 68.9,662.0 70.4,667.8 72.4,663.2 74.7,658.0 76.1,658.3 77.5,660.3 79.8,664.3 82.1,666.6 83.8,666.7 85.5,668.1 87.0,668.4 88.4,667.2 90.2,665.9 91.9,666.1 93.6,665.1 95.3,665.5 96.7,666.0 98.2,665.2 99.6,664.4 101.0,664.4 102.5,662.4 103.9,660.4 106.2,654.6 108.8,638.0 110.4,650.0 112.1,666.1 114.2,647.8 116.1,632.3 118.2,640.9 119.9,649.5 121.4,650.0 122.8,653.3 126.2,646.6 128.8,641.1 130.5,651.2 132.2,660.4 134.2,648.9 136.7,639.2 138.8,648.9 141.3,658.1 144.5,653.5 147.4,647.8 148.9,654.6 150.5,664.9 152.5,653.5 155.0,645.5 157.7,652.3 160.5,659.2 162.3,662.1 163.6,660.9 165.0,658.6 166.3,657.5 168.6,661.0 170.9,667.8 173.7,648.4 176.0,646.7 178.9,642.1 181.2,628.9 183.5,600.5 185.2,630.0 186.9,658.1 188.6,630.0 190.3,588.5 192.0,607.2 193.8,632.3 196.6,639.2 201.2,643.8 204.6,647.2 207.5,640.4 210.6,623.8 212.4,639.2 213.8,650.7 215.9,627.8 217.8,614.6 219.5,623.2 221.8,667.8 223.5,638.1 225.0,625.5 227.0,638.1 228.7,648.4 231.5,651.2 233.2,655.2 235.0,653.5 237.3,658.1 238.8,658.3 240.3,660.3 241.8,660.6 243.3,662.8 244.8,664.3 247.0,662.8 248.5,664.1 250.0,665.9 251.5,666.6 253.4,665.5 255.3,664.3 257.0,661.4 258.7,656.8 260.0,658.9 261.3,662.1 263.5,665.8 265.8,665.1 267.3,663.7 268.8,662.1 270.3,663.6 271.8,665.1 273.7,664.4 275.6,664.3 277.1,664.5 278.6,664.3 280.1,664.3 281.6,665.8 283.1,665.8 285.0,667.6 286.8,668.1 289.1,665.8 291.0,665.5 292.8,666.6 294.7,666.9 296.6,667.3 298.5,665.0 300.3,663.6 302.2,663.9 304.1,665.8 306.0,666.2 307.9,665.1 309.8,664.6 311.6,664.3 313.9,667.3 315.2,666.1 316.5,666.5 317.8,665.1 319.1,665.1 320.6,666.6 322.1,666.1 323.6,667.3 325.1,666.1 326.6,666.6 328.1,666.1 329.6,666.6" fill="none" stroke="#333" stroke-width="0.9" stroke-linejoin="round"/>
<path d="M12.1,675.4H329.6" stroke="#000" stroke-width="1.5"/>
<path d="M20.1,675.4V678.1 M33.3,675.4V678.1 M46.5,675.4V678.1 M59.7,675.4V680.2 M72.9,675.4V678.1 M86.1,675.4V678.1 M99.3,675.4V678.1 M112.6,675.4V678.1 M125.8,675.4V678.1 M139.0,675.4V680.2 M152.2,675.4V678.1 M165.4,675.4V678.1 M178.7,675.4V678.1 M191.9,675.4V678.1 M205.1,675.4V678.1 M218.3,675.4V680.2 M231.5,675.4V678.1 M244.7,675.4V678.1 M257.9,675.4V678.1 M271.2,675.4V678.1 M284.4,675.4V678.1 M297.6,675.4V680.2 M310.8,675.4V678.1 M324.0,675.4V678.1" stroke="#000" stroke-width="1.2"/>
<text transform="translate(32.40,693.40) scale(1.0008,1)" x="-0.35" y="0" font-size="15.20">4156.25</text>
<text transform="translate(111.70,693.40) scale(1.0000,1)" x="-0.35" y="0" font-size="15.20">4156.50</text>
<text transform="translate(191.00,693.40) scale(1.0008,1)" x="-0.35" y="0" font-size="15.20">4156.75</text>
<text transform="translate(270.30,693.40) scale(1.0000,1)" x="-0.35" y="0" font-size="15.20">4157.00</text>
<text transform="translate(161.20,709.70) scale(0.9742,1)" x="-0.00" y="0" font-size="10.00">ν</text>
<text transform="translate(169.80,709.70) scale(0.8098,1)" x="-0.00" y="0" font-size="12.00">/</text>
<text transform="translate(177.60,709.70) scale(1.0399,1)" x="-0.98" y="0" font-size="12.00">MHz</text>
<g transform="translate(76.80,646.60) rotate(-90)" stroke="#000" stroke-width="0.3"><text x="-0.30" y="0.00" font-size="13.00" textLength="18.58" lengthAdjust="spacing">4,4</text><path d="M31.9,-2.9H19.3 M21.9,-4.8L19.3,-2.9L21.9,-0.9" fill="none" stroke="#000" stroke-width="0.85"/><text x="33.30" y="0.00" font-size="13.00" textLength="18.87" lengthAdjust="spacing">3,3</text></g>
<path d="M67.6,653.7V650.2H75.6V653.7" fill="none" stroke="#000" stroke-width="1.55"/>
<g transform="translate(117.20,622.60) rotate(-90)" stroke="#000" stroke-width="0.3"><text x="-0.52" y="0.00" font-size="13.00" textLength="18.97" lengthAdjust="spacing">5,5</text><path d="M31.9,-2.9H19.3 M21.9,-4.8L19.3,-2.9L21.9,-0.9" fill="none" stroke="#000" stroke-width="0.85"/><text x="33.50" y="0.00" font-size="13.00" textLength="18.48" lengthAdjust="spacing">4,4</text></g>
<path d="M110.0,632.8V626.9H117.6V628.7" fill="none" stroke="#000" stroke-width="1.55"/>
<g transform="translate(137.20,628.10) rotate(-90)" stroke="#000" stroke-width="0.3"><text x="-0.30" y="0.00" font-size="13.00" textLength="18.74" lengthAdjust="spacing">4,5</text><path d="M31.9,-2.9H19.3 M21.9,-4.8L19.3,-2.9L21.9,-0.9" fill="none" stroke="#000" stroke-width="0.85"/><text x="33.30" y="0.00" font-size="13.00" textLength="18.68" lengthAdjust="spacing">3,4</text></g>
<path d="M129.6,635.6V631.9H137.2V634.8" fill="none" stroke="#000" stroke-width="1.55"/>
<g transform="translate(155.80,635.30) rotate(-90)" stroke="#000" stroke-width="0.3"><text x="-0.30" y="0.00" font-size="13.00" textLength="18.77" lengthAdjust="spacing">4,3</text><path d="M31.9,-2.9H19.3 M21.9,-4.8L19.3,-2.9L21.9,-0.9" fill="none" stroke="#000" stroke-width="0.85"/><text x="33.30" y="0.00" font-size="13.00" textLength="18.95" lengthAdjust="spacing">3,2</text></g>
<path d="M147.6,644.0V639.0H155.0V641.5" fill="none" stroke="#000" stroke-width="1.55"/>
<g transform="translate(190.60,578.50) rotate(-90)" stroke="#000" stroke-width="0.3"><text x="-0.52" y="0.00" font-size="13.00" textLength="18.99" lengthAdjust="spacing">5,6</text><path d="M31.9,-2.9H19.3 M21.9,-4.8L19.3,-2.9L21.9,-0.9" fill="none" stroke="#000" stroke-width="0.85"/><text x="33.50" y="0.00" font-size="13.00" textLength="18.64" lengthAdjust="spacing">4,5</text></g>
<path d="M183.0,594.4V583.3H190.3V585.2" fill="none" stroke="#000" stroke-width="1.55"/>
<g transform="translate(213.60,603.20) rotate(-90)" stroke="#000" stroke-width="0.3"><text x="-0.52" y="0.00" font-size="13.00" textLength="18.80" lengthAdjust="spacing">5,4</text><path d="M31.9,-2.9H19.3 M21.9,-4.8L19.3,-2.9L21.9,-0.9" fill="none" stroke="#000" stroke-width="0.85"/><text x="33.50" y="0.00" font-size="13.00" textLength="18.67" lengthAdjust="spacing">4,3</text></g>
<path d="M208.5,620.1V607.1H214.7V610.3" fill="none" stroke="#000" stroke-width="1.55"/>
<g transform="translate(228.60,603.20) rotate(-90)" stroke="#000" stroke-width="0.3"><text x="-0.50" y="0.00" font-size="13.00" textLength="18.78" lengthAdjust="spacing">3,4</text><path d="M31.9,-2.9H19.3 M21.9,-4.8L19.3,-2.9L21.9,-0.9" fill="none" stroke="#000" stroke-width="0.85"/><text x="33.15" y="0.00" font-size="13.00" textLength="19.03" lengthAdjust="spacing">2,3</text></g>
<path d="M217.6,610.3V607.1H224.0V620.1" fill="none" stroke="#000" stroke-width="1.55"/>
<path d="M65.3,802.4V757.8 M106.8,802.4V740.1 M135.2,802.4V743.3 M157.2,802.4V774.5 M160.4,802.4V780.0 M189.3,802.4V724.0 M217.3,802.4V754.3 M220.7,802.4V755.5 M265.4,802.4V795.5" stroke="#ff3030" stroke-width="1.5"/>
<text transform="translate(431.30,483.90) scale(1.0193,1)" x="-1.28" y="0" font-size="19.20" font-weight="bold">Equatorial conformer</text>
<text x="493.03" y="501.00" font-size="18.00" font-weight="bold">4</text>
<g stroke="#000" stroke-width="0.35">
<text transform="translate(504.70,507.20) scale(0.9624,1)" x="-0.84" y="0" font-size="11.00">1,4</text>
</g>
<path d="M537.3,496.7H520.3 M523.5,494.3L520.3,496.7L523.5,499.1" fill="none" stroke="#000" stroke-width="1.00"/>
<text x="539.59" y="501.00" font-size="18.00" font-weight="bold">3</text>
<g stroke="#000" stroke-width="0.35">
<text transform="translate(551.10,507.20) scale(0.9663,1)" x="-0.84" y="0" font-size="11.00">1,3</text>
</g>
<text transform="translate(385.30,532.80) scale(1.0408,1)" x="-0.69" y="0" font-size="17.50" font-style="italic">I’F’</text>
<path d="M426.5,528.2H410.5 M414.1,525.5L410.5,528.2L414.1,530.9" fill="none" stroke="#000" stroke-width="1.00"/>
<text transform="translate(434.00,532.80) scale(1.0737,1)" x="-0.69" y="0" font-size="17.50" font-style="italic">I’’F’’</text>
<path d="M374.3,672.2 375.8,669.7 377.2,668.6 378.6,669.3 380.0,670.0 381.4,671.1 382.9,671.8 384.3,671.0 385.7,671.8 387.1,670.4 388.6,670.3 390.1,671.7 391.5,671.5 392.9,669.6 394.3,669.3 396.5,667.2 397.9,667.2 399.3,668.6 401.5,670.8 403.6,670.0 405.0,672.2 406.4,670.7 407.9,667.5 409.4,669.4 410.8,670.8 412.6,670.6 414.3,670.8 415.7,670.7 417.2,670.8 418.6,670.3 420.8,671.2 422.2,669.8 423.6,669.3 425.1,667.6 426.5,667.2 428.7,670.0 430.8,667.9 432.2,668.8 433.7,668.6 436.1,670.3 438.7,667.9 440.1,667.5 441.5,666.5 442.9,665.6 444.4,664.6 445.9,664.3 447.3,662.9 449.4,663.6 450.8,657.2 453.0,646.4 455.1,655.7 457.6,664.3 460.1,654.3 462.7,646.0 465.1,655.7 467.3,666.4 468.8,663.6 470.2,660.7 473.6,654.9 476.4,657.2 478.7,661.2 480.8,651.5 482.4,650.4 483.9,657.2 485.2,663.0 486.5,667.0 489.0,649.2 491.9,637.2 494.2,649.2 495.9,649.2 499.9,659.5 501.4,657.8 502.8,657.2 505.6,654.4 507.6,659.5 509.7,649.5 512.1,644.2 513.8,634.2 515.4,635.3 517.4,665.9 520.3,629.4 523.2,590.0 525.0,595.3 526.8,621.2 529.1,661.2 530.9,633.0 533.0,607.7 535.0,617.7 537.4,628.3 540.9,641.2 542.5,637.5 544.6,634.9 546.3,641.2 548.2,669.2 551.4,649.2 554.3,633.8 556.6,642.3 558.9,656.1 561.2,661.8 563.7,669.2 566.1,649.2 568.4,641.2 570.3,643.5 572.0,658.4 573.4,661.8 575.5,649.2 577.5,634.3 579.5,642.3 581.8,653.2 585.2,657.8 586.5,661.0 587.9,663.9 589.2,667.0 591.5,662.4 593.8,663.5 595.2,665.7 596.7,668.4 598.1,666.9 599.5,665.0 601.8,667.0 603.3,666.1 604.9,666.7 606.4,665.8 607.9,667.4 609.5,667.1 611.0,668.7 612.5,668.4 614.0,667.9 615.5,668.1 617.0,668.8 618.4,671.1 620.5,667.1 622.3,668.4 624.1,668.2 625.5,668.1 626.9,667.6 628.3,668.2 629.7,669.0 631.2,668.7 632.6,669.7 634.4,671.1 636.1,671.1 637.5,669.1 639.0,668.2 640.8,667.0 642.5,667.5 644.2,669.1 646.0,671.8 647.8,670.8 649.6,670.4 651.0,669.6 652.4,669.7 653.8,668.2 655.2,669.9 656.7,670.6 658.1,672.2 659.9,669.3 661.6,668.2 663.0,668.3 664.5,670.6 665.9,670.4 667.3,670.1 668.7,670.3 670.1,669.7 671.5,668.7 673.0,668.4 674.4,669.0 675.8,670.7 677.2,671.1 678.6,671.0 680.0,670.3 681.4,670.4 683.2,670.1 685.0,670.4 687.1,671.8 688.9,670.4 690.7,670.4" fill="none" stroke="#333" stroke-width="0.9" stroke-linejoin="round"/>
<path d="M374.0,675.2H691.4" stroke="#000" stroke-width="1.5"/>
<path d="M383.9,675.2V677.9 M400.4,675.2V677.9 M416.9,675.2V677.9 M433.4,675.2V680.0 M449.9,675.2V677.9 M466.4,675.2V677.9 M482.9,675.2V677.9 M499.4,675.2V677.9 M515.9,675.2V677.9 M532.4,675.2V680.0 M548.9,675.2V677.9 M565.4,675.2V677.9 M581.9,675.2V677.9 M598.4,675.2V677.9 M614.9,675.2V677.9 M631.4,675.2V680.0 M647.9,675.2V677.9 M664.4,675.2V677.9 M680.9,675.2V677.9" stroke="#000" stroke-width="1.2"/>
<text transform="translate(406.10,693.20) scale(1.0008,1)" x="-0.35" y="0" font-size="15.20">4366.25</text>
<text transform="translate(505.10,693.20) scale(1.0000,1)" x="-0.35" y="0" font-size="15.20">4366.50</text>
<text transform="translate(604.10,693.20) scale(1.0008,1)" x="-0.35" y="0" font-size="15.20">4366.75</text>
<text transform="translate(512.40,709.50) scale(0.9742,1)" x="-0.00" y="0" font-size="10.00">ν</text>
<text transform="translate(521.00,709.50) scale(0.8098,1)" x="-0.00" y="0" font-size="12.00">/</text>
<text transform="translate(528.80,709.50) scale(1.0572,1)" x="-0.98" y="0" font-size="12.00">MHz</text>
<g transform="translate(463.10,635.80) rotate(-90)" stroke="#000" stroke-width="0.3"><text x="-0.52" y="0.00" font-size="13.00" textLength="18.97" lengthAdjust="spacing">5,5</text><path d="M31.9,-2.9H19.3 M21.9,-4.8L19.3,-2.9L21.9,-0.9" fill="none" stroke="#000" stroke-width="0.85"/><text x="33.50" y="0.00" font-size="13.00" textLength="18.48" lengthAdjust="spacing">4,4</text></g>
<path d="M453.2,642.3V638.9H462.6V642.3" fill="none" stroke="#000" stroke-width="1.55"/>
<g transform="translate(478.80,639.50) rotate(-90)" stroke="#000" stroke-width="0.3"><text x="-0.50" y="0.00" font-size="13.00" textLength="18.97" lengthAdjust="spacing">3,3</text><path d="M31.9,-2.9H19.3 M21.9,-4.8L19.3,-2.9L21.9,-0.9" fill="none" stroke="#000" stroke-width="0.85"/><text x="33.15" y="0.00" font-size="13.00" textLength="19.11" lengthAdjust="spacing">2,2</text></g>
<path d="M472.0,648.6V645.4H479.4V648.6" fill="none" stroke="#000" stroke-width="1.55"/>
<g transform="translate(491.90,628.10) rotate(-90)" stroke="#000" stroke-width="0.3"><text x="-0.52" y="0.00" font-size="13.00" textLength="18.80" lengthAdjust="spacing">5,4</text><path d="M31.9,-2.9H19.3 M21.9,-4.8L19.3,-2.9L21.9,-0.9" fill="none" stroke="#000" stroke-width="0.85"/><text x="33.50" y="0.00" font-size="13.00" textLength="18.67" lengthAdjust="spacing">4,3</text></g>
<path d="M483.6,646.8V631.9H491.4V634.4" fill="none" stroke="#000" stroke-width="1.55"/>
<g transform="translate(522.40,578.10) rotate(-90)" stroke="#000" stroke-width="0.3"><text x="-0.30" y="0.00" font-size="13.00" textLength="18.58" lengthAdjust="spacing">4,4</text><path d="M31.9,-2.9H19.3 M21.9,-4.8L19.3,-2.9L21.9,-0.9" fill="none" stroke="#000" stroke-width="0.85"/><text x="33.30" y="0.00" font-size="13.00" textLength="18.87" lengthAdjust="spacing">3,3</text></g>
<path d="M515.1,626.3V583.6H522.9V588.3" fill="none" stroke="#000" stroke-width="1.55"/>
<g transform="translate(534.60,578.10) rotate(-90)" stroke="#000" stroke-width="0.3"><text x="-0.52" y="0.00" font-size="13.00" textLength="18.99" lengthAdjust="spacing">5,6</text><path d="M31.9,-2.9H19.3 M21.9,-4.8L19.3,-2.9L21.9,-0.9" fill="none" stroke="#000" stroke-width="0.85"/><text x="33.50" y="0.00" font-size="13.00" textLength="18.64" lengthAdjust="spacing">4,5</text></g>
<path d="M525.7,588.3V583.6H533.6V602.5" fill="none" stroke="#000" stroke-width="1.55"/>
<g transform="translate(553.90,623.10) rotate(-90)" stroke="#000" stroke-width="0.3"><text x="-0.50" y="0.00" font-size="13.00" textLength="18.78" lengthAdjust="spacing">3,4</text><path d="M31.9,-2.9H19.3 M21.9,-4.8L19.3,-2.9L21.9,-0.9" fill="none" stroke="#000" stroke-width="0.85"/><text x="33.15" y="0.00" font-size="13.00" textLength="19.03" lengthAdjust="spacing">2,3</text></g>
<path d="M544.4,630.8V627.3H554.2V630.8" fill="none" stroke="#000" stroke-width="1.55"/>
<g transform="translate(577.60,623.10) rotate(-90)" stroke="#000" stroke-width="0.3"><text x="-0.30" y="0.00" font-size="13.00" textLength="18.74" lengthAdjust="spacing">4,5</text><path d="M31.9,-2.9H19.3 M21.9,-4.8L19.3,-2.9L21.9,-0.9" fill="none" stroke="#000" stroke-width="0.85"/><text x="33.30" y="0.00" font-size="13.00" textLength="18.68" lengthAdjust="spacing">3,4</text></g>
<path d="M568.0,638.3V627.5H577.3V630.3" fill="none" stroke="#000" stroke-width="1.55"/>
<path d="M452.3,801.6V736.3 M468.9,801.6V759.4 M490.3,801.6V748.0 M528.4,801.6V743.4 M536.9,801.6V725.3 M558.3,801.6V748.8 M566.7,801.6V759.7 M583.8,801.6V736.3" stroke="#3c3cbe" stroke-width="1.6"/>
</svg>
</body></html>
